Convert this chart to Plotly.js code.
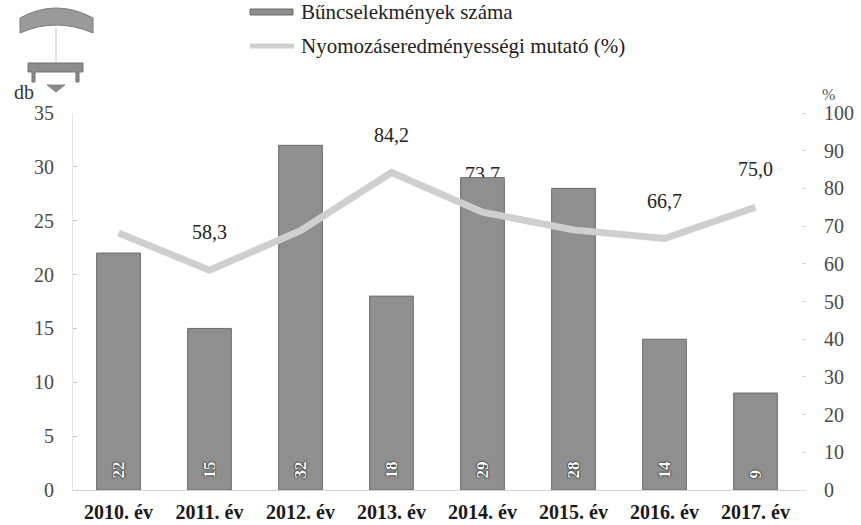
<!DOCTYPE html>
<html>
<head>
<meta charset="utf-8">
<script src="https://cdn.plot.ly/plotly-3.0.1.min.js"></script>
<style>html,body{margin:0;padding:0;background:#fff;}#chart{width:861px;height:525px;}</style>
</head>
<body>
<div id="chart"></div>
<script>
const categories = ["2010. év","2011. év","2012. év","2013. év","2014. év","2015. év","2016. év","2017. év"];
const crimeCounts = [22, 15, 32, 18, 29, 28, 14, 9];
const clearanceRate = [68.2, 58.3, 68.8, 84.2, 73.7, 69.0, 66.7, 75.0];
const rateLabels = ["", "58,3", "", "84,2", "73,7", "", "66,7", "75,0"];
const barName = "Bűncselekmények száma";
const lineName = "Nyomozáseredményességi mutató (%)";
const leftTicks = [0,5,10,15,20,25,30,35];
const rightTicks = [0,10,20,30,40,50,60,70,80,90,100];

const M = {l:73, r:60, t:113, b:35};
const W = 861, H = 525;
const pw = W - M.l - M.r, ph = H - M.t - M.b;
function px(x){ return (x - M.l)/pw; }
function py(y){ return (H - M.b - y)/ph; }
function pth(pts){
  return pts.map(p => p[0] + (p.length>1 ? px(p[1]).toFixed(4)+','+py(p[2]).toFixed(4) : '')).join(' ');
}

const serif = "Liberation Serif, Times New Roman, serif";
const barColor = '#8f8f8f', lineColor = '#cfcfcf';

const traces = [
  {
    type: 'scatter', mode: 'text', x: categories, y: clearanceRate,
    text: rateLabels.map(s => s ? s + '<br>&nbsp;' : ''), textposition: 'top center',
    textfont: {family: serif, size: 20, color: '#222'},
    yaxis: 'y', showlegend: false, hoverinfo: 'skip', cliponaxis: false
  },
  {
    type: 'bar', name: barName, x: categories, y: crimeCounts, yaxis: 'y2',
    width: 0.48, showlegend: false,
    marker: {color: barColor, line: {color: '#6a6a6a', width: 1}},
    text: crimeCounts.map(v => '&nbsp;&nbsp;' + v), textposition: 'inside', insidetextanchor: 'start',
    textangle: -90,
    textfont: {family: serif, size: 17, color: '#fff', weight: 'bold',
               shadow: '0px 0px 1px #000, 0px 0px 2px #000'}
  },
  {
    type: 'scatter', mode: 'lines', name: lineName, x: categories, y: clearanceRate, yaxis: 'y3',
    line: {color: lineColor, width: 7}, showlegend: false, cliponaxis: false
  }
];

const shapes = [
  // decorative logo (top-left)
  {type:'path', xref:'paper', yref:'paper', fillcolor:'#9a9a9a', line:{color:'#7a7a7a', width:1},
   path: pth([['M',20,18],['Q',56,-2],['',93,18],['L',93,33],['Q',56,17],['',20,33],['Z']])},
  {type:'line', xref:'paper', yref:'paper', x0:px(56), x1:px(56), y0:py(28), y1:py(63), line:{color:'#c8c8c8', width:1}},
  {type:'path', xref:'paper', yref:'paper', fillcolor:'#8c8c8c', line:{color:'#707070', width:1},
   path: pth([['M',28,63],['L',83,63],['L',83,72],['L',79,72],['L',79,82],['L',76,82],['L',76,72],['L',35,72],['L',35,82],['L',32,82],['L',32,72],['L',28,72],['Z']])},
  {type:'path', xref:'paper', yref:'paper', fillcolor:'#8a8a8a', line:{color:'#8a8a8a', width:1},
   path: pth([['M',47,85],['L',65,85],['L',56,92],['Z']])},
  // legend swatches
  {type:'rect', xref:'paper', yref:'paper', x0:px(250), x1:px(293), y0:py(9), y1:py(15),
   fillcolor: barColor, line:{color:'#6a6a6a', width:1}},
  {type:'line', xref:'paper', yref:'paper', x0:px(250), x1:px(294), y0:py(46), y1:py(46),
   line:{color: lineColor, width: 5}}
];

const layout = {
  width: W, height: H,
  margin: {l: M.l, r: M.r, t: M.t, b: M.b, pad: 0},
  paper_bgcolor: '#fff', plot_bgcolor: '#fff',
  font: {family: serif, color: '#333'},
  showlegend: false,
  xaxis: {
    type: 'category', showgrid: false, zeroline: false, tickangle: 0,
    showline: true, linecolor: '#d4d4d4', linewidth: 1, ticks: '',
    tickfont: {family: serif, size: 20, color: '#1a1a1a', weight: 'bold'},
    ticklabelstandoff: 4
  },
  yaxis: {range: [0, 100], visible: false, fixedrange: true},
  yaxis2: {
    overlaying: 'y', side: 'left', range: [0, 35], tickvals: leftTicks,
    showgrid: false, zeroline: false, showline: true, linecolor: '#e4e4e4', linewidth: 1,
    ticks: 'inside', ticklen: 4, tickcolor: '#c8c8c8',
    tickfont: {family: serif, size: 20, color: '#4a4a4a'}, ticklabelstandoff: 14
  },
  yaxis3: {
    overlaying: 'y', side: 'right', range: [0, 100], tickvals: rightTicks,
    showgrid: false, zeroline: false, showline: false,
    ticks: 'outside', ticklen: 4, tickcolor: '#d6d6d6',
    tickfont: {family: serif, size: 20, color: '#4a4a4a'}, ticklabelstandoff: 14
  },
  annotations: [
    {text: barName, xref: 'paper', yref: 'paper', x: px(299), y: py(12), xanchor: 'left', yanchor: 'middle',
     showarrow: false, font: {family: serif, size: 21, color: '#222'}},
    {text: lineName, xref: 'paper', yref: 'paper', x: px(299), y: py(46), xanchor: 'left', yanchor: 'middle',
     showarrow: false, font: {family: serif, size: 21, color: '#222'}},
    {text: 'db', xref: 'paper', yref: 'paper', x: px(24), y: py(92), xanchor: 'center', yanchor: 'middle',
     showarrow: false, font: {family: serif, size: 20, color: '#333'}},
    {text: '%', xref: 'paper', yref: 'paper', x: px(828), y: py(94), xanchor: 'center', yanchor: 'middle',
     showarrow: false, font: {family: serif, size: 16, color: '#555'}}
  ],
  shapes: shapes
};

Plotly.newPlot('chart', traces, layout, {displayModeBar: false, staticPlot: true});
</script>
</body>
</html>
